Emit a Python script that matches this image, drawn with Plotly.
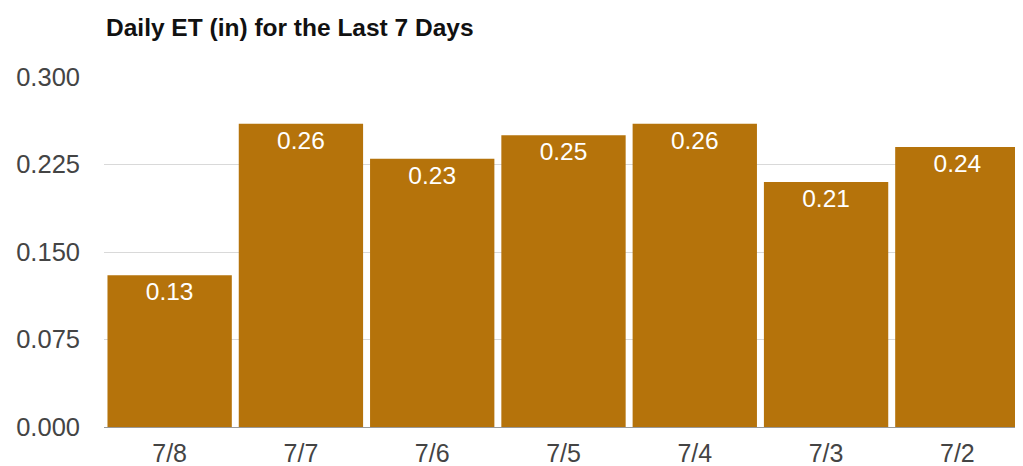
import plotly.graph_objects as go

days = ["7/8", "7/7", "7/6", "7/5", "7/4", "7/3", "7/2"]
et_values = [0.13, 0.26, 0.23, 0.25, 0.26, 0.21, 0.24]
label_texts = ["0.13", "0.26", "0.23", "0.25", "0.26", "0.21", "0.24"]
y_ticks = [0.0, 0.075, 0.15, 0.225, 0.3]
y_tick_labels = ["0.000", "0.075", "0.150", "0.225", "0.300"]

FONT = "Liberation Sans, Arial, sans-serif"

fig = go.Figure(
    go.Bar(
        x=days,
        y=et_values,
        text=label_texts,
        textposition="inside",
        insidetextanchor="end",
        textangle=0,
        constraintext="none",
        textfont=dict(family=FONT, size=24.5, color="white"),
        marker=dict(color="#B5730B", line=dict(width=0)),
        hoverinfo="x+y",
    )
)

fig.update_layout(
    width=1015,
    height=458,
    margin=dict(l=96, r=0, t=69, b=39, pad=0),
    paper_bgcolor="white",
    plot_bgcolor="white",
    bargap=0.053,
    showlegend=False,
    font=dict(family=FONT, color="#444444"),
    title=dict(
        text="<b>Daily ET (in) for the Last 7 Days</b>",
        x=98 / 1015,
        xanchor="left",
        xref="container",
        y=1 - 19 / 458,
        yanchor="middle",
        yref="container",
        font=dict(family=FONT, size=24.5, color="#111111"),
    ),
    xaxis=dict(
        showgrid=False,
        showline=False,
        ticks="",
        tickfont=dict(size=25, color="#444444"),
        ticklabelstandoff=9,
        fixedrange=True,
    ),
    yaxis=dict(
        range=[0, 0.3],
        tickvals=y_ticks,
        ticktext=y_tick_labels,
        showgrid=True,
        gridcolor="#d9d9d9",
        gridwidth=1,
        zeroline=True,
        zerolinecolor="#999999",
        zerolinewidth=1,
        showline=False,
        ticks="",
        tickfont=dict(size=25.5, color="#444444"),
        ticklabelstandoff=23,
        fixedrange=True,
    ),
)

fig.write_html("out.html")
